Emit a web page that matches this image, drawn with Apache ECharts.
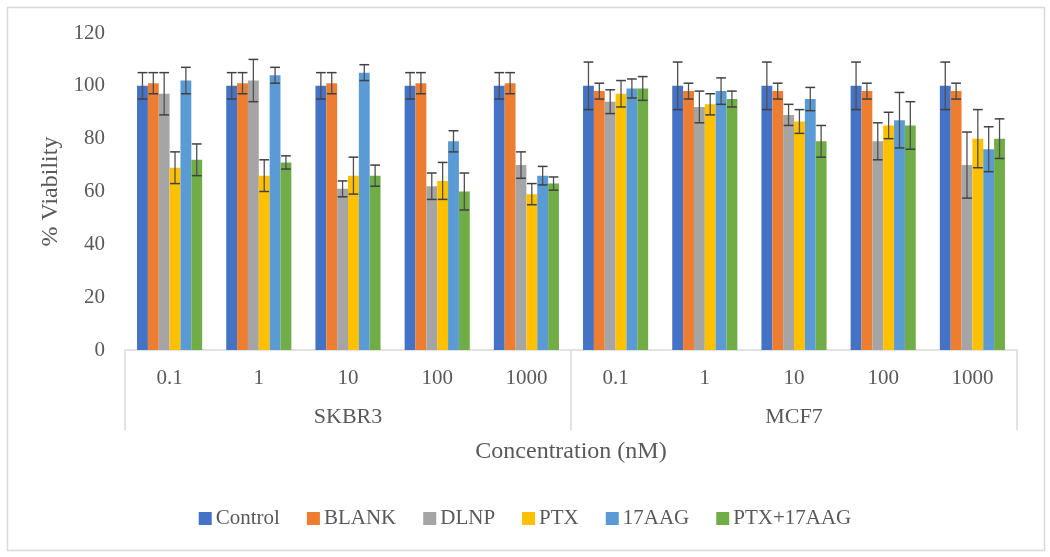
<!DOCTYPE html>
<html>
<head>
<meta charset="utf-8">
<script src="https://cdn.jsdelivr.net/npm/echarts@6/dist/echarts.min.js"></script>
<style>
html,body{margin:0;padding:0;background:#fff;}
#chart{width:1050px;height:557px;}
</style>
</head>
<body>
<div id="chart"></div>
<script>
const categories = ['0.1','1','10','100','1000','0.1','1','10','100','1000'];
const groups = ['SKBR3','MCF7'];
const yTicks = [0,20,40,60,80,100,120];
const seriesNames = ['Control','BLANK','DLNP','PTX','17AAG','PTX+17AAG'];

const control    = [100,100,100,100,100, 100,100,100,100,100];
const controlErr = [5,5,5,5,5, 9,9,9,9,9];
const blank      = [101,101,101,101,101, 98,98,98,98,98];
const blankErr   = [4,4,4,4,4, 3,3,3,3,3];
const dlnp       = [97,102,61,62,70, 94,92,89,79,70];
const dlnpErr    = [8,8,3,5,5, 4.5,6,4,7,12.5];
const ptx        = [69,66,66,64,59, 97,93,86.5,85,80];
const ptxErr     = [6,6,7,7,4, 5,4,4.5,5,11];
const aag        = [102,104,105,79,66, 99,98,95,87,76];
const aagErr     = [5,3,3,4,3.5, 3.6,5,4.4,10.5,8.5];
const combo      = [72,71,66,60,63, 99,95,79,85,80];
const comboErr   = [6,2.5,4,7,2.5, 4.5,3,6,9,7.5];

const values = [control, blank, dlnp, ptx, aag, combo];
const errors = [controlErr, blankErr, dlnpErr, ptxErr, aagErr, comboErr];
const colors = ['#4472C4','#ED7D31','#A5A5A5','#FFC000','#5B9BD5','#70AD47'];

const FONT = 'Liberation Serif';
const TXT = '#595959';
const GAP = 0.27;
const N = seriesNames.length;

const series = [];
seriesNames.forEach((name, k) => {
  series.push({
    name: name,
    type: 'bar',
    data: values[k],
    itemStyle: {color: colors[k]},
    barGap: '0%',
    barCategoryGap: (GAP*100) + '%',
    animation: false
  });
});
seriesNames.forEach((name, k) => {
  series.push({
    type: 'custom',
    data: values[k].map((v, i) => [i, v, errors[k][i]]),
    encode: {x: 0, y: 1},
    z: 5,
    silent: true,
    animation: false,
    renderItem: function (params, api) {
      const ci = api.value(0), v = api.value(1), e = api.value(2);
      const band = api.size([1, 0])[0];
      const bw = band * (1 - GAP) / N;
      const c = api.coord([ci, v]);
      const x = c[0] + (k - (N - 1) / 2) * bw;
      const top = api.coord([ci, v + e])[1];
      const bot = api.coord([ci, v - e])[1];
      const h = bw * 0.45;
      const st = {stroke: '#404040', lineWidth: 1.5};
      return {
        type: 'group',
        children: [
          {type: 'line', shape: {x1: x, y1: top, x2: x, y2: bot}, style: {stroke: '#505050', lineWidth: 1.3}},
          {type: 'line', shape: {x1: x - h, y1: top, x2: x + h, y2: top}, style: st},
          {type: 'line', shape: {x1: x - h, y1: bot, x2: x + h, y2: bot}, style: st}
        ]
      };
    }
  });
});

const chart = echarts.init(document.getElementById('chart'), null, {renderer: 'canvas'});
chart.setOption({
  backgroundColor: '#fff',
  animation: false,
  textStyle: {fontFamily: FONT, color: TXT},
  graphic: [{
    type: 'rect', left: 5, top: 5,
    shape: {width: 1037, height: 543},
    style: {fill: 'none', stroke: '#d9d9d9', lineWidth: 1.5},
    silent: true
  }],
  grid: {left: 125, right: 33, top: 33, bottom: 207},
  legend: {
    data: seriesNames,
    left: 'center',
    top: 503,
    icon: 'rect',
    itemWidth: 13,
    itemHeight: 13,
    itemGap: 27,
    textStyle: {fontFamily: FONT, fontSize: 21, color: TXT, padding: [0,0,0,-1]}
  },
  xAxis: [{
    type: 'category',
    data: categories,
    position: 'bottom',
    axisLine: {lineStyle: {color: '#d9d9d9', width: 1.5}},
    axisTick: {show: false},
    axisLabel: {fontFamily: FONT, fontSize: 21, color: TXT, margin: 18, interval: 0},
    name: 'Concentration (nM)',
    nameLocation: 'middle',
    nameGap: 90,
    nameTextStyle: {fontFamily: FONT, fontSize: 24, color: TXT}
  }, {
    type: 'category',
    data: groups,
    position: 'bottom',
    offset: 0,
    axisLine: {show: false},
    axisTick: {show: true, length: 80, lineStyle: {color: '#d9d9d9', width: 1.5}},
    axisLabel: {fontFamily: FONT, fontSize: 22, color: TXT, margin: 56}
  }],
  yAxis: {
    type: 'value',
    min: yTicks[0],
    max: yTicks[yTicks.length - 1],
    interval: 20,
    axisLine: {show: false},
    axisTick: {show: false},
    splitLine: {show: false},
    axisLabel: {fontFamily: FONT, fontSize: 21, color: TXT, margin: 20},
    name: '% Viability',
    nameLocation: 'middle',
    nameGap: 58,
    nameTextStyle: {fontFamily: FONT, fontSize: 24, color: TXT}
  },
  series: series
});
</script>
</body>
</html>
